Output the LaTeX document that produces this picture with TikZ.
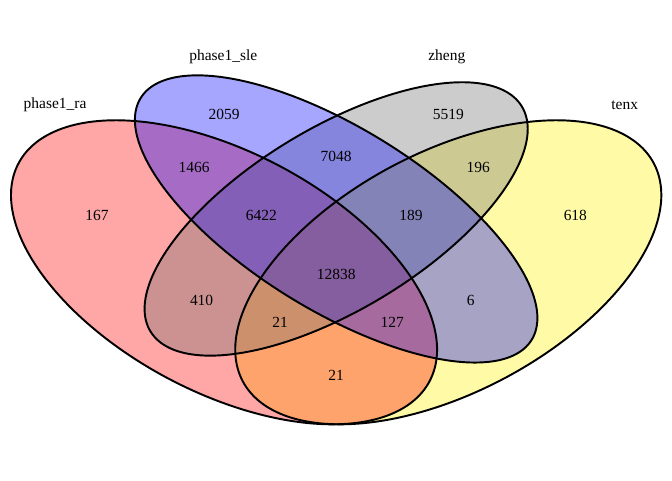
\documentclass[tikz,border=0pt]{standalone}
\usepackage{fontspec}
\setmainfont{Liberation Serif}
\usepackage{tikz}

\definecolor{zhenggray}{RGB}{110,110,110}
% ellipse: centre x, centre y, half axis a, half axis b, rotation
\newcommand{\vennpath}[5]{plot[domain=0:360, samples=240] ({#1+#3*cos(\x)*cos(#5)-#4*sin(\x)*sin(#5)}, {#2+#3*cos(\x)*sin(#5)+#4*sin(\x)*cos(#5)}) -- cycle}

\begin{document}
\begin{tikzpicture}[x=14.95cm, y=10.668cm, every node/.style={font=\fontsize{8.8}{10}\selectfont, yshift=-0.035cm}]

  \useasboundingbox (0.0503,0.0806) rectangle (0.9493,0.9805);

  \fill[yellow, fill opacity=0.35] \vennpath{0.65}{0.47}{0.35}{0.20}{45};
  \fill[red, fill opacity=0.35] \vennpath{0.35}{0.47}{0.35}{0.20}{135};
  \fill[zhenggray, fill opacity=0.35] \vennpath{0.50}{0.57}{0.33}{0.15}{45};
  \fill[blue, fill opacity=0.35] \vennpath{0.50}{0.57}{0.35}{0.15}{135};

  \draw[line width=1.1pt] \vennpath{0.35}{0.47}{0.35}{0.20}{135};
  \draw[line width=1.1pt] \vennpath{0.50}{0.57}{0.35}{0.15}{135};
  \draw[line width=1.1pt] \vennpath{0.50}{0.57}{0.33}{0.15}{45};
  \draw[line width=1.1pt] \vennpath{0.65}{0.47}{0.35}{0.20}{45};

  \node (ra) at (0.124,0.787) {phase1\_ra};
  \node (sle) at (0.349,0.877) {phase1\_sle};
  \node (zheng) at (0.648,0.877) {zheng};
  \node (tenx) at (0.886,0.787) {tenx};

  \node (a9) at (0.18,0.58) {167};
  \node (a1) at (0.35,0.77) {2059};
  \node (a3) at (0.65,0.77) {5519};
  \node (a15) at (0.82,0.58) {618};
  \node (a4) at (0.31,0.67) {1466};
  \node (a2) at (0.50,0.69) {7048};
  \node (a8) at (0.69,0.67) {196};
  \node (a5) at (0.40,0.58) {6422};
  \node (a7) at (0.60,0.58) {189};
  \node (a6) at (0.50,0.47) {12838};
  \node (a10) at (0.32,0.42) {410};
  \node (a14) at (0.68,0.42) {6};
  \node (a11) at (0.425,0.38) {21};
  \node (a13) at (0.575,0.38) {127};
  \node (a12) at (0.50,0.28) {21};

\end{tikzpicture}
\end{document}
